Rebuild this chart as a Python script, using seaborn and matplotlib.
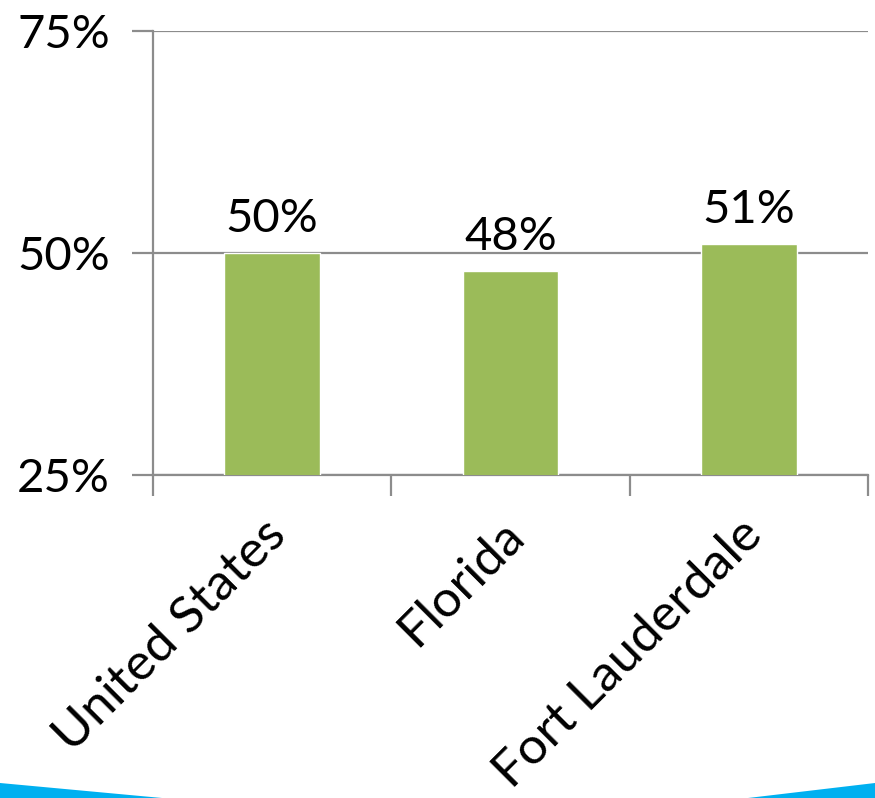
import matplotlib
matplotlib.use("Agg")
import matplotlib.pyplot as plt
import matplotlib.transforms as mtransforms
from matplotlib.patches import Polygon
from matplotlib.ticker import FixedLocator, PercentFormatter
import seaborn as sns
import pandas as pd

# Share of population by area
regions = ["United States", "Florida", "Fort Lauderdale"]
shares = [50, 48, 51]
y_ticks = [25, 50, 75]

sns.set_theme(style="white")
plt.rcParams["font.family"] = ["Lato", "DejaVu Sans"]

W, H = 875, 798
fig = plt.figure(figsize=(W / 100, H / 100), dpi=100)
ax = fig.add_axes([153 / W, 1 - 475 / H, (868 - 153) / W, (475 - 31) / H])

df = pd.DataFrame({"region": regions, "share": shares})
sns.barplot(data=df, x="region", y="share", color="#9BBB59", width=0.4,
            saturation=1, ax=ax, zorder=3)

grey = "#8C8C8C"
ax.set_ylim(y_ticks[0], y_ticks[-1])
ax.set_xlim(-0.5, len(regions) - 0.5)
ax.set_yticks(y_ticks)
ax.yaxis.set_major_formatter(PercentFormatter(decimals=0))
ax.yaxis.grid(True, color=grey, linewidth=1.6, zorder=0)
ax.set_axisbelow(True)

for side in ["top", "right"]:
    ax.spines[side].set_visible(False)
for side in ["left", "bottom"]:
    ax.spines[side].set_color(grey)
    ax.spines[side].set_linewidth(1.6)

fs = 34
ax.tick_params(axis="y", length=15, width=1.6, color=grey, direction="out",
               labelsize=fs, pad=16, left=True)
ax.tick_params(axis="x", which="major", length=0, labelsize=37, pad=38)
ax.xaxis.set_minor_locator(FixedLocator([i - 0.5 for i in range(len(regions) + 1)]))
ax.tick_params(axis="x", which="minor", length=15, width=1.6, color=grey,
               direction="out", bottom=True)
shift = mtransforms.ScaledTranslation(6 / 100, 0, fig.dpi_scale_trans)
for lbl in ax.get_xticklabels():
    lbl.set_rotation(45)
    lbl.set_ha("right")
    lbl.set_rotation_mode("anchor")
    lbl.set_va("center")
    lbl.set_color("black")
    lbl.set_transform(lbl.get_transform() + shift)
for lbl in ax.get_yticklabels():
    lbl.set_color("black")
ax.set_xlabel("")
ax.set_ylabel("")

for i, v in enumerate(shares):
    ax.annotate(f"{v}%", (i, v), xytext=(0, 15), textcoords="offset points",
                ha="center", va="baseline", fontsize=fs, color="black")

# Blue accent strips along the bottom edge
blue = "#00B0F0"
fig.patches.append(Polygon([(0, 1 - 783 / H), (162 / W, 0), (0, 0)],
                           closed=True, transform=fig.transFigure,
                           facecolor=blue, edgecolor="none"))
fig.patches.append(Polygon([(1, 1 - 783 / H), (748 / W, 0), (1, 0)],
                           closed=True, transform=fig.transFigure,
                           facecolor=blue, edgecolor="none"))

fig.savefig("out.png", dpi=100, facecolor="white")
